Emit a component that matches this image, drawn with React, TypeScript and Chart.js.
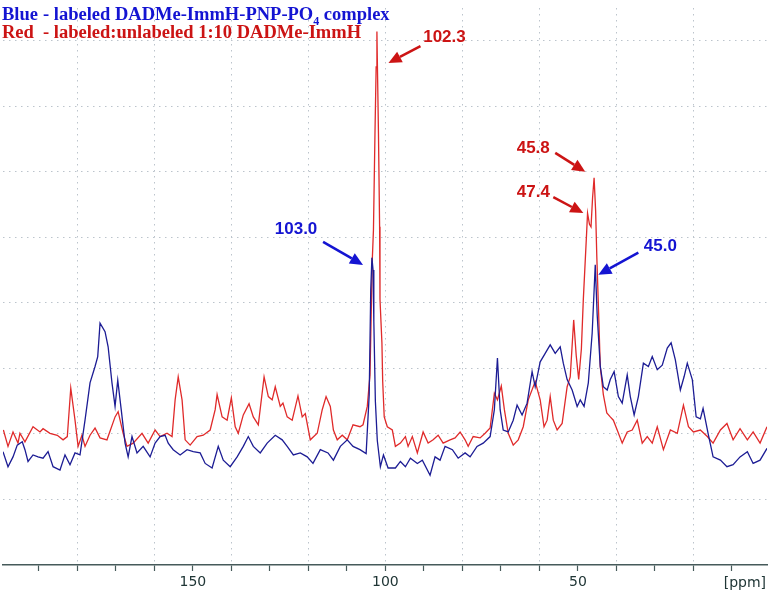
import React, { useEffect, useRef } from 'react';
import { Chart, registerables } from 'chart.js';

Chart.register(...registerables);

// ---- Data (chemical shift in ppm, intensity in grid units) ----
const redPpm = [199.2, 198.0, 196.7, 195.4, 194.9, 193.6, 191.5, 189.7, 188.9, 187.1, 185.2, 183.7, 182.6, 181.7, 180.6, 179.8, 178.8, 178.0, 176.7, 175.4, 174.1, 172.3, 170.2, 169.4, 168.1, 167.1, 165.5, 163.2, 161.6, 159.8, 158.5, 156.7, 155.4, 154.6, 153.8, 152.8, 152.0, 150.7, 148.9, 147.3, 145.5, 144.2, 143.7, 142.4, 141.1, 140.0, 139.0, 138.2, 136.9, 135.4, 134.3, 133.0, 131.5, 130.4, 129.4, 128.6, 127.3, 126.6, 125.5, 124.2, 122.7, 121.6, 120.8, 119.5, 117.7, 116.4, 115.4, 114.3, 113.5, 112.5, 111.2, 109.9, 108.4, 106.6, 105.8, 104.7, 104.0, 103.4, 103.1, 102.7, 102.4, 102.2, 102.1, 101.8, 101.5, 101.4, 100.9, 100.7, 100.3, 99.5, 98.2, 97.4, 96.1, 94.8, 94.1, 93.0, 91.7, 90.2, 88.9, 87.6, 86.3, 85.0, 83.2, 81.9, 80.6, 79.3, 78.5, 77.2, 75.4, 74.1, 72.8, 71.7, 70.9, 69.9, 69.1, 68.1, 66.8, 65.5, 64.2, 62.9, 61.1, 59.8, 58.8, 58.0, 57.2, 56.4, 55.4, 54.1, 52.8, 52.0, 51.1, 50.45, 49.8, 49.1, 48.6, 47.8, 47.5, 47.0, 46.6, 46.2, 45.8, 45.4, 45.1, 44.6, 44.2, 43.4, 42.5, 41.6, 40.8, 39.8, 38.5, 37.2, 35.9, 34.6, 33.3, 32.0, 30.7, 29.4, 27.8, 26.0, 24.2, 22.6, 21.3, 20.0, 18.2, 16.4, 14.9, 13.0, 11.3, 9.7, 7.9, 6.0, 4.5, 2.7, 0.9];
const redIntensity = [2.06, 1.81, 2.03, 1.86, 2.01, 1.88, 2.11, 2.03, 2.08, 2.01, 1.98, 1.91, 1.96, 2.70, 2.21, 1.81, 1.98, 1.81, 1.98, 2.09, 1.94, 1.91, 2.26, 2.34, 2.01, 1.81, 1.86, 2.01, 1.86, 2.06, 1.96, 2.01, 1.96, 2.52, 2.87, 2.52, 1.91, 1.83, 1.96, 1.98, 2.06, 2.37, 2.60, 2.26, 2.21, 2.55, 2.11, 2.01, 2.29, 2.46, 2.26, 2.14, 2.87, 2.57, 2.52, 2.72, 2.42, 2.47, 2.26, 2.21, 2.58, 2.26, 2.31, 1.91, 2.01, 2.37, 2.57, 2.42, 2.06, 1.91, 1.98, 1.91, 2.14, 2.11, 2.14, 2.42, 2.9, 4.66, 5.11, 6.6, 7.6, 8.14, 7.74, 6.6, 5.16, 4.05, 3.39, 2.8, 2.26, 2.11, 2.06, 1.81, 1.86, 1.96, 1.81, 1.96, 1.71, 2.03, 1.86, 1.91, 1.98, 1.86, 1.91, 1.94, 2.03, 1.91, 1.81, 1.96, 1.94, 2.01, 2.09, 2.62, 2.52, 2.73, 2.37, 2.01, 1.83, 1.91, 2.11, 2.52, 2.80, 2.52, 2.11, 2.21, 2.57, 2.21, 2.06, 2.16, 2.72, 2.87, 3.74, 3.2, 2.83, 3.3, 4.05, 5.0, 5.37, 5.2, 5.16, 5.6, 5.91, 5.4, 4.71, 3.8, 3.03, 2.6, 2.32, 2.26, 2.21, 2.06, 1.86, 2.03, 2.06, 2.21, 1.86, 1.96, 1.86, 2.11, 1.76, 2.06, 2.01, 2.44, 2.11, 2.03, 2.06, 1.96, 1.86, 2.06, 2.16, 1.91, 2.08, 1.91, 2.03, 1.86, 2.11];

const bluePpm = [199.3, 198.0, 196.7, 195.6, 194.3, 193.6, 192.8, 191.5, 190.2, 188.9, 187.6, 186.3, 184.5, 183.2, 181.9, 180.6, 179.3, 178.0, 176.7, 175.4, 174.7, 174.1, 172.8, 172.0, 171.0, 170.2, 169.5, 168.6, 167.6, 166.8, 165.8, 164.5, 162.9, 161.1, 159.8, 158.5, 157.2, 156.4, 155.1, 153.3, 151.5, 149.9, 148.1, 146.8, 145.0, 143.4, 142.1, 140.3, 138.5, 136.9, 135.6, 134.3, 132.5, 130.7, 128.6, 126.8, 125.5, 123.9, 122.1, 120.3, 118.8, 116.9, 114.9, 113.5, 111.7, 109.9, 108.4, 106.6, 105.0, 104.2, 103.8, 103.5, 103.2, 103.0, 102.6, 102.1, 101.3, 100.5, 99.3, 97.4, 96.1, 94.8, 93.5, 91.7, 90.4, 88.4, 87.1, 85.8, 84.5, 82.6, 81.1, 79.3, 78.0, 76.2, 74.6, 72.8, 71.7, 70.9, 70.2, 69.4, 68.1, 66.8, 65.8, 64.5, 63.2, 61.9, 61.1, 59.8, 58.5, 57.2, 55.9, 54.6, 53.8, 52.8, 51.5, 50.2, 49.4, 48.4, 47.3, 46.3, 45.5, 45.0, 44.2, 43.4, 42.4, 41.6, 40.6, 39.5, 38.5, 37.2, 36.4, 35.4, 34.3, 33.0, 31.7, 30.7, 29.4, 28.1, 26.8, 25.8, 24.7, 23.4, 22.4, 21.6, 20.3, 19.3, 18.2, 17.5, 16.2, 14.9, 13.0, 11.3, 9.7, 7.9, 6.0, 4.5, 2.7, 0.9];
const blueIntensity = [1.73, 1.50, 1.65, 1.83, 1.88, 1.76, 1.58, 1.68, 1.65, 1.63, 1.73, 1.50, 1.45, 1.68, 1.53, 1.71, 1.68, 2.21, 2.78, 3.03, 3.18, 3.69, 3.56, 3.33, 2.78, 2.42, 2.82, 2.37, 1.86, 1.65, 1.96, 1.71, 1.81, 1.65, 1.86, 1.96, 1.98, 1.86, 1.76, 1.68, 1.76, 1.73, 1.71, 1.55, 1.48, 1.81, 1.60, 1.50, 1.65, 1.81, 1.96, 1.81, 1.71, 1.86, 1.98, 1.91, 1.81, 1.68, 1.71, 1.65, 1.55, 1.76, 1.71, 1.60, 1.81, 1.91, 1.81, 1.76, 1.70, 2.6, 4.2, 4.69, 4.5, 3.72, 2.5, 1.9, 1.50, 1.68, 1.48, 1.48, 1.58, 1.50, 1.63, 1.55, 1.60, 1.37, 1.65, 1.60, 1.81, 1.76, 1.63, 1.71, 1.65, 1.81, 1.86, 1.96, 2.37, 3.16, 2.37, 2.06, 2.03, 2.21, 2.44, 2.29, 2.47, 2.95, 2.72, 3.10, 3.23, 3.36, 3.23, 3.33, 3.08, 2.83, 2.67, 2.42, 2.52, 2.42, 2.78, 3.54, 4.58, 3.82, 3.03, 2.72, 2.67, 2.83, 2.95, 2.57, 2.47, 2.90, 2.57, 2.29, 2.57, 3.08, 3.03, 3.18, 2.98, 3.05, 3.31, 3.39, 3.13, 2.67, 2.88, 3.08, 2.83, 2.26, 2.23, 2.39, 2.01, 1.65, 1.60, 1.50, 1.53, 1.65, 1.73, 1.55, 1.60, 1.78];

const xTickValues = [190, 180, 170, 160, 150, 140, 130, 120, 110, 100, 90, 80, 70, 60, 50, 40, 30, 20, 10];
const xLabeledTicks = [150, 100, 50];
const xGridStep = 20;
const yGridValues = [1, 2, 3, 4, 5, 6, 7, 8];
const axisUnitLabel = '[ppm]';

const legendBlue = ['Blue', '- labeled DADMe-ImmH-PNP-PO', '4', ' complex'];
const legendRed = ['Red', '- labeled:unlabeled 1:10 DADMe-ImmH'];

const peakLabels = ['102.3', '103.0', '45.8', '47.4', '45.0'];
const peakIsRed = [true, false, true, true, false];
const arrowTipPpm = [99.2, 105.8, 48.1, 48.6, 44.7];
const arrowTipIntensity = [7.66, 4.58, 6.0, 5.37, 4.43];

// annotation layout (pixel offsets from arrow tip): [tailDx, tailDy, textDx, textDy]
const annotationOffsets = [
  [32, -17, 56, -26],
  [-40, -23, -67, -36],
  [-30, -19, -52, -24],
  [-30, -16, -50, -21],
  [40, -22, 62, -28],
];

const RED_LINE = '#e02a2a';
const BLUE_LINE = '#1c1c94';
const RED_TEXT = '#cc1414';
const BLUE_TEXT = '#1414d2';
const AXIS_COLOR = '#465a5a';
const GRID_COLOR = '#bcc4cc';
const TICK_TEXT = '#203636';

function drawArrow(ctx: CanvasRenderingContext2D, x1: number, y1: number, x2: number, y2: number, color: string) {
  const ang = Math.atan2(y2 - y1, x2 - x1);
  const headLen = 13;
  const headHalf = 6;
  const bx = x2 - headLen * Math.cos(ang);
  const by = y2 - headLen * Math.sin(ang);
  ctx.strokeStyle = color;
  ctx.fillStyle = color;
  ctx.lineWidth = 2.5;
  ctx.beginPath();
  ctx.moveTo(x1, y1);
  ctx.lineTo(bx, by);
  ctx.stroke();
  ctx.beginPath();
  ctx.moveTo(x2, y2);
  ctx.lineTo(bx + headHalf * Math.sin(ang), by - headHalf * Math.cos(ang));
  ctx.lineTo(bx - headHalf * Math.sin(ang), by + headHalf * Math.cos(ang));
  ctx.closePath();
  ctx.fill();
}

const overlayPlugin = {
  id: 'nmrOverlay',
  afterDatasetsDraw(chart: any) {
    const { ctx } = chart;
    const xs = chart.scales.x;
    const ys = chart.scales.y;
    ctx.save();

    // legend text
    const serif = '"Liberation Serif", "Times New Roman", serif';
    ctx.textBaseline = 'alphabetic';
    ctx.textAlign = 'left';
    ctx.font = `bold 18.5px ${serif}`;
    ctx.fillStyle = BLUE_TEXT;
    ctx.fillText(legendBlue[0], 2, 20);
    let px = 43;
    ctx.fillText(legendBlue[1], px, 20);
    px += ctx.measureText(legendBlue[1]).width;
    ctx.font = `bold 12px ${serif}`;
    ctx.fillText(legendBlue[2], px, 24.5);
    px += ctx.measureText(legendBlue[2]).width;
    ctx.font = `bold 18.5px ${serif}`;
    ctx.fillText(legendBlue[3], px, 20);

    ctx.fillStyle = RED_TEXT;
    ctx.fillText(legendRed[0], 2, 37.5);
    ctx.fillText(legendRed[1], 43, 37.5);

    // peak annotations
    ctx.font = 'bold 17px "Liberation Sans", Arial, sans-serif';
    ctx.textAlign = 'center';
    ctx.textBaseline = 'middle';
    peakLabels.forEach((label, i) => {
      const tx = xs.getPixelForValue(arrowTipPpm[i]);
      const ty = ys.getPixelForValue(arrowTipIntensity[i]);
      const [tdx, tdy, lx, ly] = annotationOffsets[i];
      const color = peakIsRed[i] ? RED_TEXT : BLUE_TEXT;
      drawArrow(ctx, tx + tdx, ty + tdy, tx, ty, color);
      ctx.fillStyle = color;
      ctx.fillText(label, tx + lx, ty + ly);
    });

    // axis unit label
    ctx.font = '14px "DejaVu Sans", sans-serif';
    ctx.fillStyle = TICK_TEXT;
    ctx.textAlign = 'right';
    ctx.textBaseline = 'middle';
    ctx.fillText(axisUnitLabel, 766, xs.top + 18);

    ctx.restore();
  },
};

export default function App() {
  const canvasRef = useRef<HTMLCanvasElement | null>(null);

  useEffect(() => {
    if (!canvasRef.current) return;
    const redData = redPpm.map((p, i) => ({ x: p, y: redIntensity[i] }));
    const blueData = bluePpm.map((p, i) => ({ x: p, y: blueIntensity[i] }));

    const chart = new Chart(canvasRef.current, {
      type: 'line',
      data: {
        datasets: [
          {
            label: 'Blue - labeled DADMe-ImmH-PNP-PO4 complex',
            data: blueData,
            borderColor: BLUE_LINE,
            borderWidth: 1.3,
            pointRadius: 0,
            tension: 0,
            fill: false,
          },
          {
            label: 'Red - labeled:unlabeled 1:10 DADMe-ImmH',
            data: redData,
            borderColor: RED_LINE,
            borderWidth: 1.3,
            pointRadius: 0,
            tension: 0,
            fill: false,
          },
        ],
      },
      options: {
        animation: false,
        responsive: false,
        maintainAspectRatio: false,
        layout: { padding: { left: 3, right: 1, top: 8, bottom: 0 } },
        plugins: {
          legend: { display: false },
          tooltip: { enabled: false },
          title: { display: false },
        },
        scales: {
          x: {
            type: 'linear',
            reverse: true,
            min: 0.9,
            max: 199.3,
            afterBuildTicks: (scale: any) => {
              scale.ticks = xTickValues.map((v) => ({ value: v }));
            },
            afterFit: (scale: any) => {
              scale.height = 28;
            },
            ticks: {
              autoSkip: false,
              maxRotation: 0,
              padding: 3,
              color: TICK_TEXT,
              font: { family: '"DejaVu Sans", sans-serif', size: 14 },
              callback: (value: any) => (xLabeledTicks.includes(Number(value)) ? String(value) : ''),
            },
            grid: {
              drawOnChartArea: true,
              color: (ctx: any) =>
                ctx.tick && ctx.tick.value % xGridStep === 0 ? GRID_COLOR : 'rgba(0,0,0,0)',
              lineWidth: 1,
              tickColor: AXIS_COLOR,
              tickLength: 6,
              tickWidth: 1.2,
            },
            border: { display: true, color: AXIS_COLOR, width: 1.5, dash: [1.5, 4.5] },
          },
          y: {
            min: 0,
            max: 8.5,
            afterBuildTicks: (scale: any) => {
              scale.ticks = yGridValues.map((v) => ({ value: v }));
            },
            afterFit: (scale: any) => {
              scale.width = 0;
            },
            ticks: { display: false },
            grid: { color: GRID_COLOR, lineWidth: 1, drawTicks: false },
            border: { display: false, dash: [1.5, 4.5] },
          },
        },
      },
      plugins: [overlayPlugin],
    } as any);

    return () => chart.destroy();
  }, []);

  return (
    <div style={{ position: 'absolute', left: 0, top: 0, width: 768, height: 593, background: '#ffffff' }}>
      <canvas ref={canvasRef} width={768} height={593} style={{ display: 'block' }} />
    </div>
  );
}
